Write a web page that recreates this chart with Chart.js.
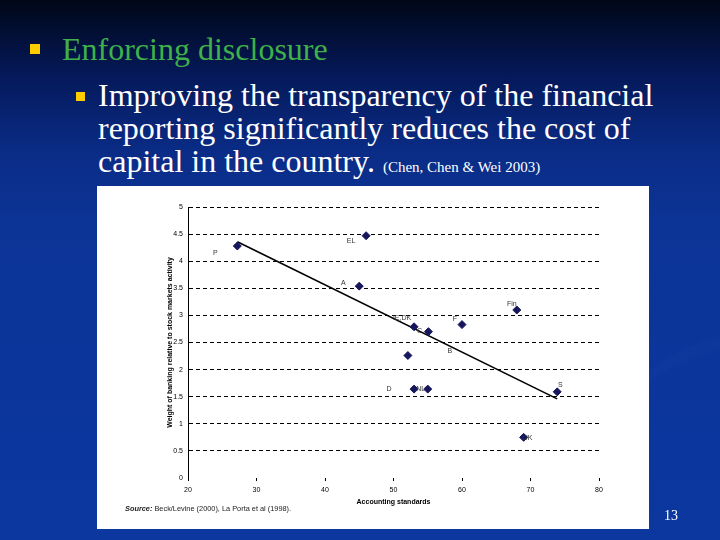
<!DOCTYPE html>
<html>
<head>
<meta charset="utf-8">
<script src="https://cdn.jsdelivr.net/npm/chart.js@4/dist/chart.umd.min.js"></script>
<style>
  html, body { margin:0; padding:0; }
  body {
    width:720px; height:540px; overflow:hidden; position:relative;
    background: linear-gradient(180deg, #000717 0%, #05195a 14%, #0a2c86 28%, #0c3497 42%, #0b379f 100%);
    font-family:"Liberation Serif", "DejaVu Serif", serif;
  }
  .swoosh { position:absolute; left:620px; top:330px; width:260px; height:120px; border-radius:50%;
    border-top:14px solid rgba(20,60,160,0.35); transform:rotate(-12deg); }
  .txt { position:absolute; white-space:nowrap; line-height:32px; font-size:32px; color:#fff; }
  .green { color:#3fb04a; }
  .bullet { position:absolute; background:#ffcc00; }
  .cite { font-size:15px; }
  .panel { position:absolute; left:97px; top:186px; width:552px; height:343px; background:#fff; }
  .source { position:absolute; left:28px; top:318px; font-family:"Liberation Sans", Arial, sans-serif;
    font-size:8px; color:#222; white-space:nowrap; transform:scaleX(0.92); transform-origin:left; }
  .num { position:absolute; left:664px; top:508px; color:#fff; font-size:14px; }
</style>
</head>
<body>
<div class="swoosh"></div>
<div class="bullet" style="left:30px;top:44px;width:10px;height:10px"></div>
<div class="txt green" style="left:62px;top:33px">Enforcing disclosure</div>
<div class="bullet" style="left:76px;top:92px;width:9px;height:9px"></div>
<div class="txt" style="left:98px;top:79px">Improving the transparency of the financial</div>
<div class="txt" style="left:98px;top:112px">reporting significantly reduces the cost of</div>
<div class="txt" style="left:98px;top:145px">capital in the country. <span class="cite">(Chen, Chen &amp; Wei 2003)</span></div>

<div class="panel">
  <canvas id="c" width="552" height="343"></canvas>
  <div class="source"><b><i>Source:</i></b> Beck/Levine (2000), La Porta et al (1998).</div>
</div>
<div class="num">13</div>

<script>
// country points
const countries = ['P', 'EL', 'A', 'Fin', 'F', 'IE,DK', 'C', 'B', 'D', 'NL', 'S', 'UK'];
const accounting = [27.2, 46.0, 45.0, 68.0, 60.0, 53.0, 55.1, 52.1, 53.0, 55.0, 73.9, 69.0];
const bankWeight = [4.28, 4.47, 3.54, 3.10, 2.83, 2.79, 2.70, 2.26, 1.64, 1.64, 1.59, 0.75];
// fitted line end points
const fitX = [27.2, 73.9];
const fitY = [4.36, 1.46];

// where each label sits relative to its marker (px)
const labelOffsets = [[-22,7],[-15,5],[-16,-3],[-5,-6],[-7,-6],[-12,-9],[-9,-1],[42,-4],[-25,0],[-7,0],[3,-7],[4,1]];

const pointData = accounting.map((x,i)=>({x:x, y:bankWeight[i]}));
const fitData = fitX.map((x,i)=>({x:x, y:fitY[i]}));

const pointLabels = {
  id:'pointLabels',
  afterDatasetsDraw(chart){
    const ctx = chart.ctx; const meta = chart.getDatasetMeta(0);
    ctx.save();
    ctx.font = '7px "Liberation Sans", Arial, sans-serif';
    ctx.fillStyle = '#333'; ctx.textAlign = 'center'; ctx.textBaseline = 'middle';
    meta.data.forEach((el,i)=>{
      const off = labelOffsets[i] || [0,0];
      ctx.fillText(countries[i], el.x + off[0], el.y + off[1]);
    });
    ctx.restore();
  }
};

const tickFont = { family:'"Liberation Sans", Arial, sans-serif', size:7 };
const titleFont = { family:'"Liberation Sans", Arial, sans-serif', size:7, weight:'bold' };

new Chart(document.getElementById('c'), {
  type:'scatter',
  data:{ datasets:[
    { data:pointData, pointStyle:'rectRot', pointRadius:4, backgroundColor:'#15165c', borderColor:'#15165c', borderWidth:1 },
    { type:'line', data:fitData, borderColor:'#000', borderWidth:1.6, pointRadius:0, fill:false, showLine:true }
  ]},
  options:{
    responsive:false, animation:false,
    layout:{ padding:{ left:0, top:21, right:50, bottom:0 } },
    plugins:{ legend:{ display:false }, tooltip:{ enabled:false } },
    scales:{
      x:{
        type:'linear', min:20, max:80,
        ticks:{ stepSize:10, font:tickFont, color:'#000', padding:5 },
        grid:{ drawOnChartArea:false, drawTicks:true, tickLength:3, tickColor:'#000' },
        border:{ display:false },
        title:{ display:true, text:'Accounting standards', font:titleFont, color:'#000', padding:{ top:0, bottom:23 } },
        afterFit(s){ s.height = 51; }
      },
      y:{
        min:0, max:5,
        ticks:{ stepSize:0.5, font:tickFont, color:'#000', padding:5, callback:v=>String(Math.round(v*10)/10) },
        grid:{ drawTicks:false, lineWidth:1, color:c=>c.tick && c.tick.value === 0 ? 'rgba(0,0,0,0)' : '#000' },
        border:{ display:true, color:'#000', width:1, dash:[4,3] },
        title:{ display:true, text:'Weight of banking relative to stock markets activity', font:titleFont, color:'#000', padding:{ top:69, bottom:0 } },
        afterFit(s){ s.width = 91; }
      }
    }
  },
  plugins:[pointLabels]
});
</script>
</body>
</html>
